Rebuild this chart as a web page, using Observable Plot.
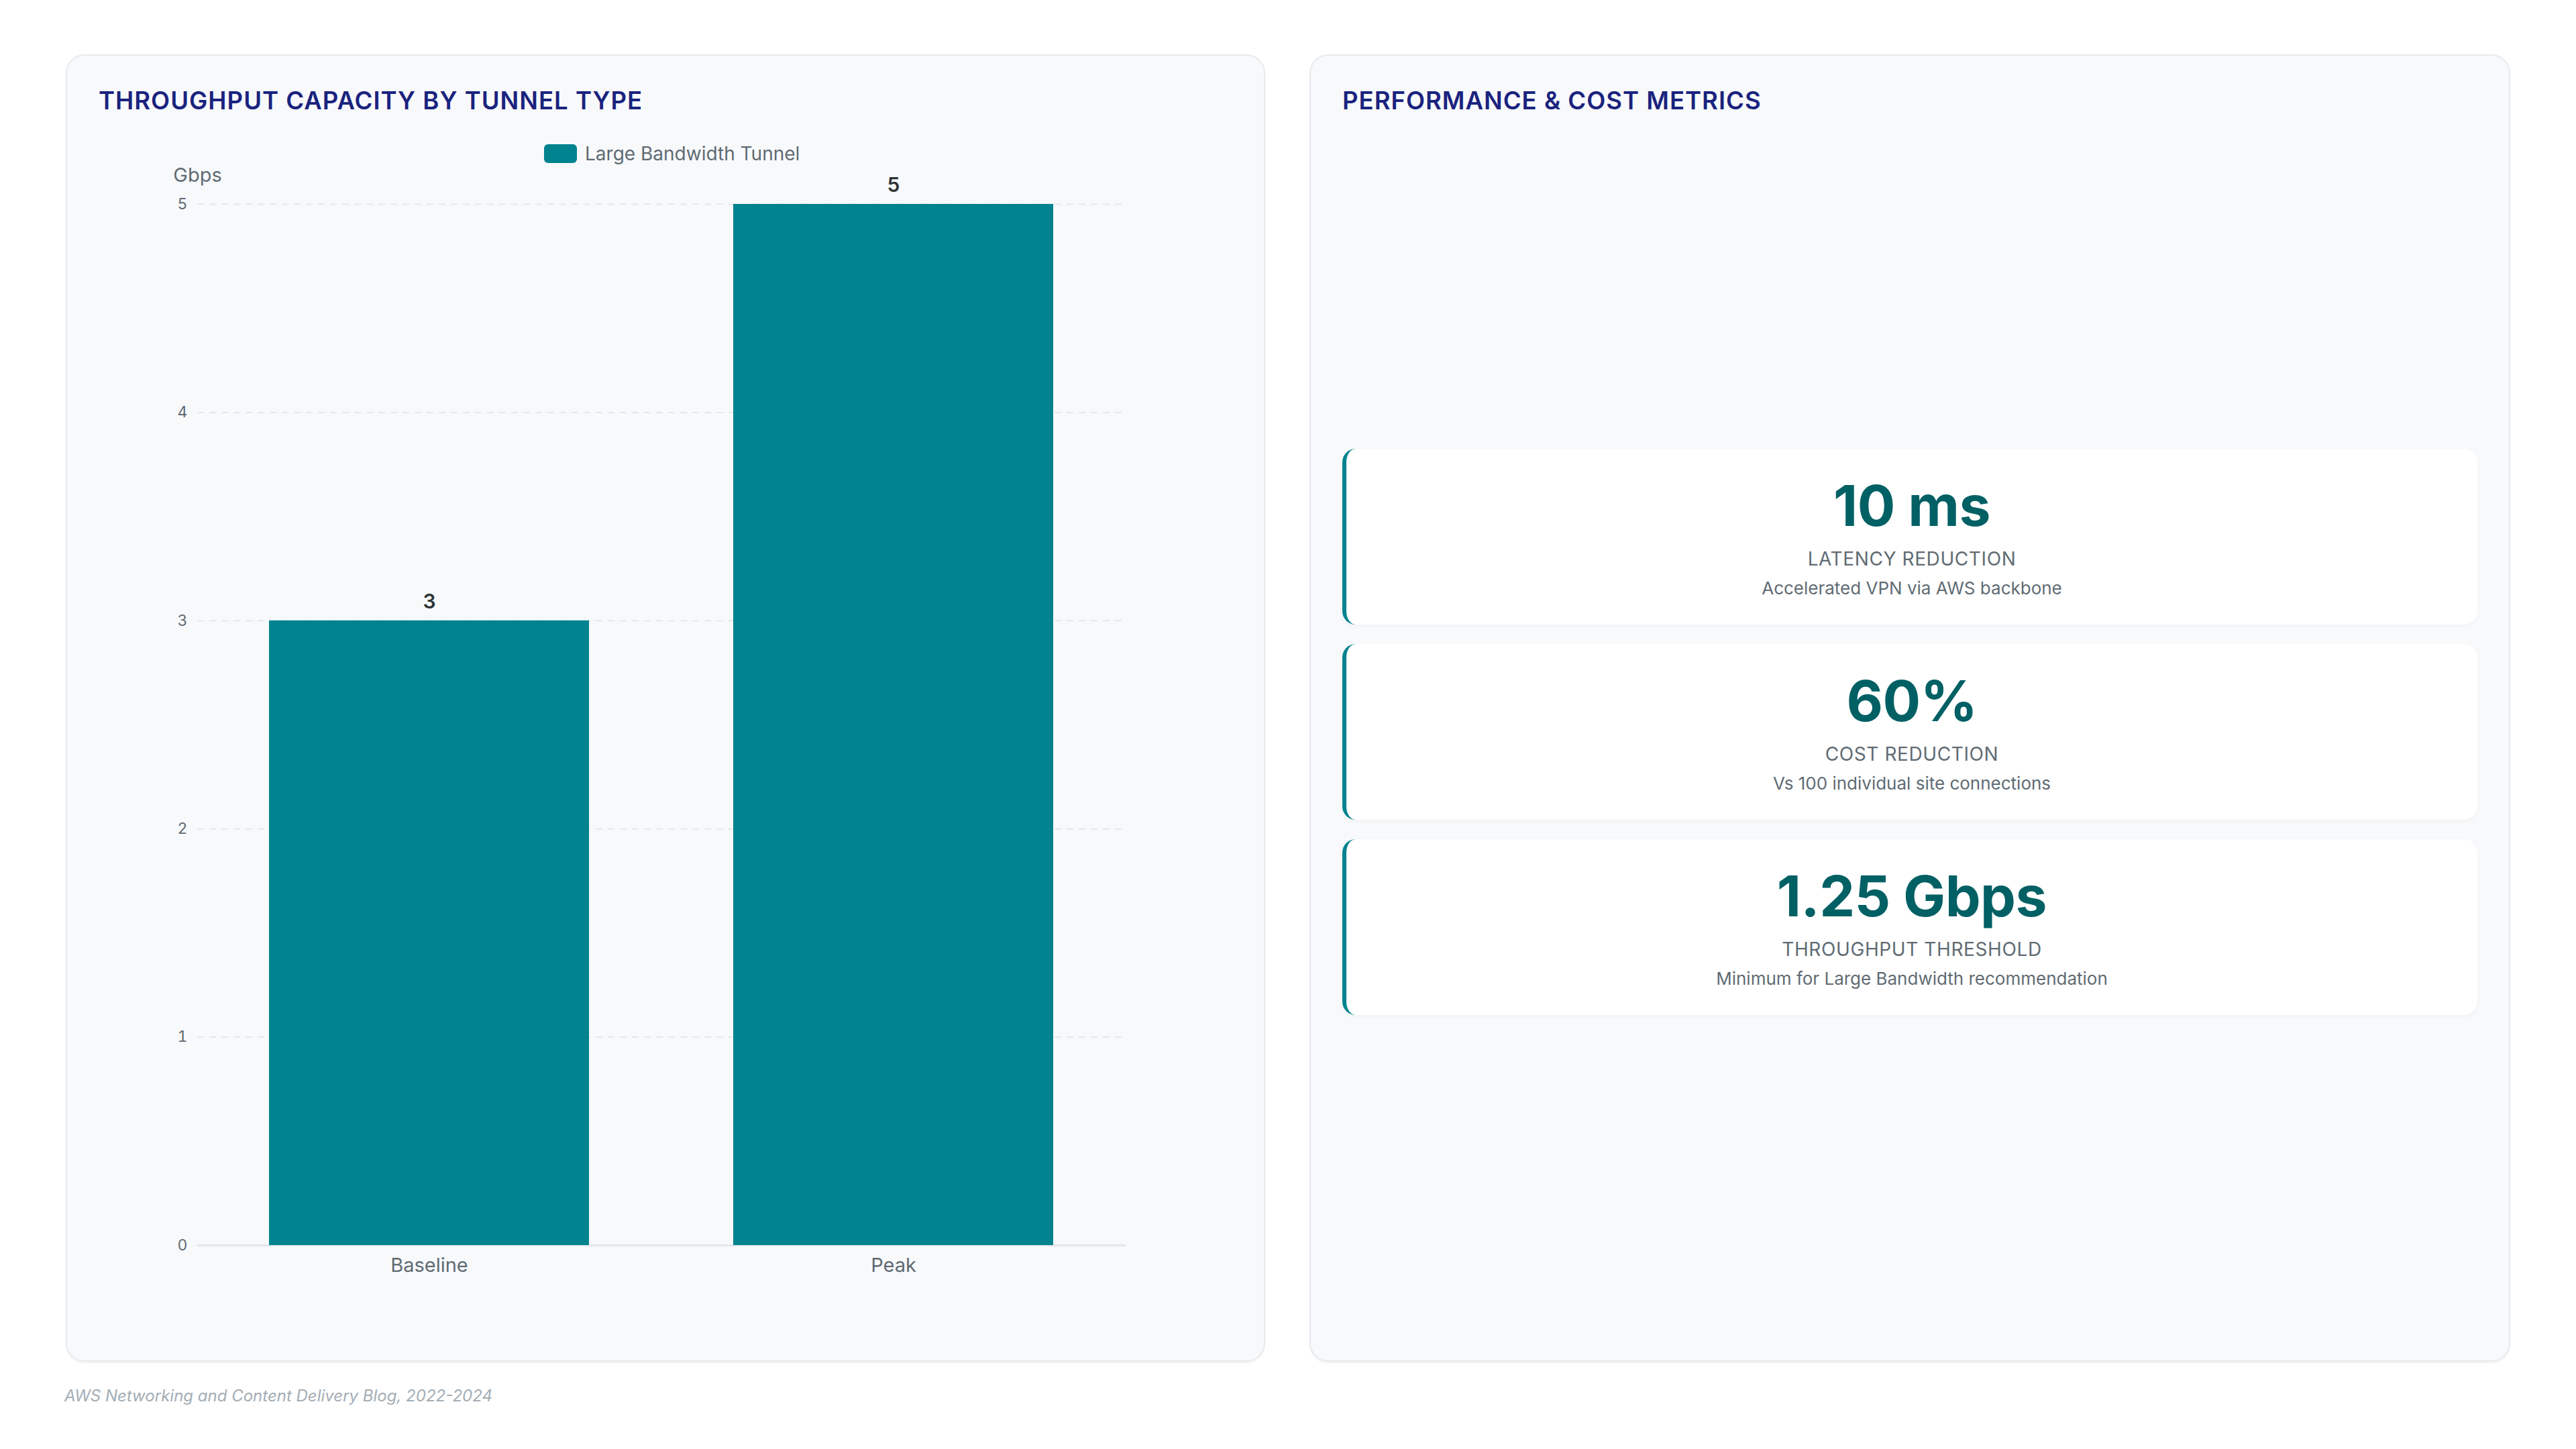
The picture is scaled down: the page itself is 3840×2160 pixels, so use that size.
<!DOCTYPE html>
<html>
<head>
<meta charset="utf-8">
<script src="https://cdn.jsdelivr.net/npm/d3@7"></script>
<script src="https://cdn.jsdelivr.net/npm/@observablehq/plot@0.6"></script>
<style>
  html, body { margin: 0; padding: 0; background: #ffffff; }
  body { width: 3840px; height: 2160px; position: relative; font-family: Inter, "Noto Sans", sans-serif; }
  .panel { position: absolute; top: 81px; height: 1949px; box-sizing: border-box; border: 2px solid #e7eaee; border-radius: 28px; background: #f8f9fb; box-shadow: 0 3px 2px rgba(0,0,0,0.04); }
  #left { left: 98px; width: 1788px; }
  #right { left: 1952px; width: 1790px; }
  .ptitle { position: absolute; left: 47px; top: 47px; font-size: 36.5px; line-height: 40px; font-weight: 600; color: #1a237e; letter-spacing: 1px; white-space: nowrap; }
  .legend { position: absolute; left: 711px; top: 129px; display: flex; align-items: center; gap: 12px; font-size: 28px; color: #5f6b73; white-space: nowrap; }
  .legend .sw { width: 49px; height: 28px; border-radius: 6px; background: #00838f; }
  #chart { position: absolute; left: 47px; top: 117px; }
  #cards { position: absolute; left: 47px; top: 586px; width: 1692px; display: flex; flex-direction: column; gap: 29px; }
  .card { height: 262px; box-sizing: border-box; background: #ffffff; border-left: 6px solid #00838f; border-radius: 20px; box-shadow: 0 2px 6px rgba(0,0,0,0.04); text-align: center; padding-top: 43px; }
  .card .val { font-size: 84px; line-height: 84px; font-weight: 700; color: #006064; letter-spacing: -0.5px; }
  .card .lab { margin-top: 20px; font-size: 28px; line-height: 34px; color: #5f6b73; letter-spacing: 0.6px; }
  .card .note { margin-top: 12px; font-size: 26px; line-height: 30px; color: #5f6b73; }
  .footer { position: absolute; left: 96px; top: 2066px; font-size: 24px; line-height: 30px; font-style: italic; color: #a3adb5; white-space: nowrap; }
</style>
</head>
<body>
<div class="panel" id="left">
  <div class="ptitle">THROUGHPUT CAPACITY BY TUNNEL TYPE</div>
  <div class="legend"><div class="sw"></div><span id="legendText"></span></div>
  <div id="chart"></div>
</div>
<div class="panel" id="right">
  <div class="ptitle">PERFORMANCE &amp; COST METRICS</div>
  <div id="cards"></div>
</div>
<div class="footer">AWS Networking and Content Delivery Blog, 2022-2024</div>
<script>
// ---- data ----
const seriesName = "Large Bandwidth Tunnel";
const categories = ["Baseline", "Peak"];
const throughputGbps = [3, 5];
const yTicks = [0, 1, 2, 3, 4, 5];
const yUnit = "Gbps";

const metricValues = ["10 ms", "60%", "1.25 Gbps"];
const metricLabels = ["LATENCY REDUCTION", "COST REDUCTION", "THROUGHPUT THRESHOLD"];
const metricNotes = ["Accelerated VPN via AWS backbone", "Vs 100 individual site connections", "Minimum for Large Bandwidth recommendation"];

// ---- chart ----
document.getElementById("legendText").textContent = seriesName;
const data = categories.map((c, i) => ({type: c, value: throughputGbps[i]}));

const chart = Plot.plot({
  width: 1690,
  height: 1726,
  marginTop: 104,
  marginBottom: 70,
  marginLeft: 147,
  marginRight: 159,
  style: {fontFamily: "Inter, 'Noto Sans', sans-serif", fontSize: "23px", color: "#5f6b73", background: "transparent"},
  x: {domain: categories, paddingInner: 0.31, paddingOuter: 0.155},
  y: {domain: [0, 5]},
  marks: [
    Plot.ruleY(yTicks.filter(t => t > 0), {stroke: "#e4e7eb", strokeWidth: 2, strokeDasharray: "10,8"}),
    Plot.ruleY([0], {stroke: "#e3e6ea", strokeWidth: 3}),
    Plot.barY(data, {x: "type", y: "value", fill: "#00838f"}),
    Plot.text(data, {x: "type", y: "value", text: d => String(d.value), dy: -28, fontSize: 30, fontWeight: 600, fill: "#2d3436"}),
    Plot.axisY({ticks: yTicks, tickFormat: d => String(d), tickSize: 0, tickPadding: 15, label: null, fontSize: 23}),
    Plot.axisX({tickSize: 0, tickPadding: 19, label: null, fontSize: 29}),
    Plot.text([yUnit], {frameAnchor: "top-left", text: d => d, dy: -54, textAnchor: "middle", fontSize: 29, fill: "#5f6b73"})
  ]
});
document.getElementById("chart").appendChild(chart);

// ---- metric cards ----
const cards = document.getElementById("cards");
metricValues.forEach((v, i) => {
  const card = document.createElement("div");
  card.className = "card";
  const a = document.createElement("div"); a.className = "val"; a.textContent = v;
  const b = document.createElement("div"); b.className = "lab"; b.textContent = metricLabels[i];
  const c = document.createElement("div"); c.className = "note"; c.textContent = metricNotes[i];
  card.append(a, b, c);
  cards.appendChild(card);
});
</script>
</body>
</html>
